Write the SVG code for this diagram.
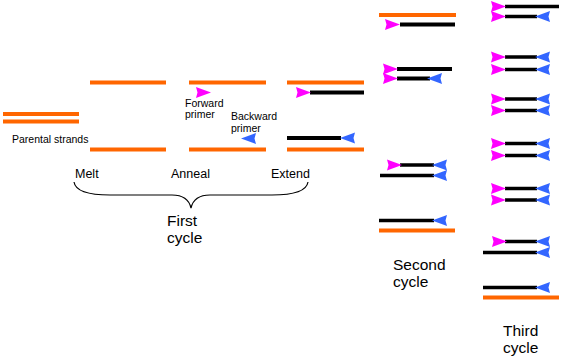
<svg xmlns="http://www.w3.org/2000/svg" xmlns:xlink="http://www.w3.org/1999/xlink" width="573" height="357" viewBox="0 0 573 357">
<style>
.o{stroke:#FF6600;stroke-width:4;fill:none}
.k{stroke:#000;stroke-width:4;fill:none}
.kt{stroke:#000;stroke-width:3.5;fill:none}
.t{font-family:"Liberation Sans",Arial,sans-serif;fill:#000}
.s{font-size:10.5px}
.m{font-size:12.5px}
.l{font-size:15.5px}
</style>
<defs>
<path id="fw" d="M0,-5.5 L4,-4 L15,0 L4,4 L0,5.5 L1.5,0 Z" fill="#FF00FF"/>
<path id="bw" d="M0,-5.5 L-4,-4 L-15,0 L-4,4 L0,5.5 L-1.5,0 Z" fill="#3366FF"/>
</defs>
<rect width="573" height="357" fill="#fff"/>

<g id="parental">
<line class="o" x1="3" y1="114" x2="79" y2="114"/>
<line class="o" x1="3" y1="121.5" x2="79" y2="121.5"/>
<text class="t s" x="12" y="142.5" style="font-size:10.5px">Parental strands</text>
</g>

<g id="melt">
<line class="o" x1="90" y1="82.5" x2="166" y2="82.5"/>
<line class="o" x1="90" y1="149.5" x2="166" y2="149.5"/>
<text class="t m" x="75" y="178">Melt</text>
</g>

<g id="anneal">
<line class="o" x1="189" y1="82.5" x2="266" y2="82.5"/>
<line class="o" x1="189" y1="149.5" x2="266" y2="149.5"/>
<use xlink:href="#fw" x="196" y="92.5"/>
<use xlink:href="#bw" x="256" y="138.5"/>
<text class="t s" x="185" y="106.5">Forward</text>
<text class="t s" x="185" y="118">primer</text>
<text class="t s" x="231" y="119.5">Backward</text>
<text class="t s" x="231" y="132">primer</text>
<text class="t m" x="171" y="178">Anneal</text>
</g>

<g id="extend">
<line class="o" x1="287" y1="82.5" x2="364" y2="82.5"/>
<line class="k" x1="310" y1="92.5" x2="364" y2="92.5"/>
<use xlink:href="#fw" x="296" y="92.5"/>
<line class="k" x1="287" y1="138" x2="341" y2="138"/>
<use xlink:href="#bw" x="355" y="138"/>
<line class="o" x1="287" y1="149.5" x2="364" y2="149.5"/>
<text class="t m" x="271" y="178">Extend</text>
</g>

<g id="first-cycle">
<path d="M74,182 Q76,195 110,195 L172,195 Q188,195 191,208 Q194,195 210,195 L272,195 Q306,195 308,182" fill="none" stroke="#000" stroke-width="1.2"/>
<text class="t l" x="167" y="226">First</text>
<text class="t l" x="167" y="243">cycle</text>
</g>

<g id="second-cycle">
<line class="o" x1="379" y1="15" x2="456" y2="15"/>
<line class="k" x1="400" y1="24.5" x2="455" y2="24.5"/>
<use xlink:href="#fw" x="385" y="24.5"/>
<line class="k" x1="397" y1="69" x2="452" y2="69"/>
<use xlink:href="#fw" x="383" y="69"/>
<line class="k" x1="397" y1="78.5" x2="430" y2="78.5"/>
<use xlink:href="#fw" x="383" y="78.5"/>
<use xlink:href="#bw" x="442" y="78.5"/>
<line class="kt" x1="400" y1="165" x2="434" y2="165"/>
<use xlink:href="#fw" x="387" y="165"/>
<use xlink:href="#bw" x="447" y="165"/>
<line class="kt" x1="380" y1="175.5" x2="434" y2="175.5"/>
<use xlink:href="#bw" x="447" y="175.5"/>
<line class="kt" x1="379" y1="220.5" x2="434" y2="220.5"/>
<use xlink:href="#bw" x="447" y="220.5"/>
<line class="o" x1="379" y1="230.5" x2="455" y2="230.5"/>
<text class="t l" x="393" y="270">Second</text>
<text class="t l" x="393" y="287">cycle</text>
</g>

<g id="third-cycle">
<line class="kt" x1="505" y1="6.5" x2="559" y2="6.5"/>
<use xlink:href="#fw" x="491" y="6.5"/>
<line class="kt" x1="505" y1="16.5" x2="537" y2="16.5"/>
<use xlink:href="#fw" x="491" y="16.5"/>
<use xlink:href="#bw" x="550" y="16.5"/>

<line class="kt" x1="505" y1="57" x2="537" y2="57"/>
<use xlink:href="#fw" x="491" y="57"/>
<use xlink:href="#bw" x="550" y="57"/>
<line class="kt" x1="505" y1="69.5" x2="537" y2="69.5"/>
<use xlink:href="#fw" x="491" y="69.5"/>
<use xlink:href="#bw" x="550" y="69.5"/>

<line class="kt" x1="505" y1="99" x2="537" y2="99"/>
<use xlink:href="#fw" x="491" y="99"/>
<use xlink:href="#bw" x="550" y="99"/>
<line class="kt" x1="505" y1="110.5" x2="537" y2="110.5"/>
<use xlink:href="#fw" x="491" y="110.5"/>
<use xlink:href="#bw" x="550" y="110.5"/>

<line class="kt" x1="505" y1="143.5" x2="537" y2="143.5"/>
<use xlink:href="#fw" x="491" y="143.5"/>
<use xlink:href="#bw" x="550" y="143.5"/>
<line class="kt" x1="505" y1="155.5" x2="537" y2="155.5"/>
<use xlink:href="#fw" x="491" y="155.5"/>
<use xlink:href="#bw" x="550" y="155.5"/>

<line class="kt" x1="505" y1="188.5" x2="537" y2="188.5"/>
<use xlink:href="#fw" x="491" y="188.5"/>
<use xlink:href="#bw" x="550" y="188.5"/>
<line class="kt" x1="505" y1="200" x2="537" y2="200"/>
<use xlink:href="#fw" x="491" y="200"/>
<use xlink:href="#bw" x="550" y="200"/>

<line class="kt" x1="505" y1="241.5" x2="537" y2="241.5"/>
<use xlink:href="#fw" x="492" y="241.5"/>
<use xlink:href="#bw" x="550" y="241.5"/>
<line class="kt" x1="483" y1="252.5" x2="537" y2="252.5"/>
<use xlink:href="#bw" x="550" y="252.5"/>

<line class="kt" x1="483" y1="287.5" x2="537" y2="287.5"/>
<use xlink:href="#bw" x="550" y="287.5"/>
<line class="o" x1="483" y1="297.5" x2="559" y2="297.5"/>
<text class="t l" x="503" y="336">Third</text>
<text class="t l" x="503" y="353">cycle</text>
</g>
</svg>
